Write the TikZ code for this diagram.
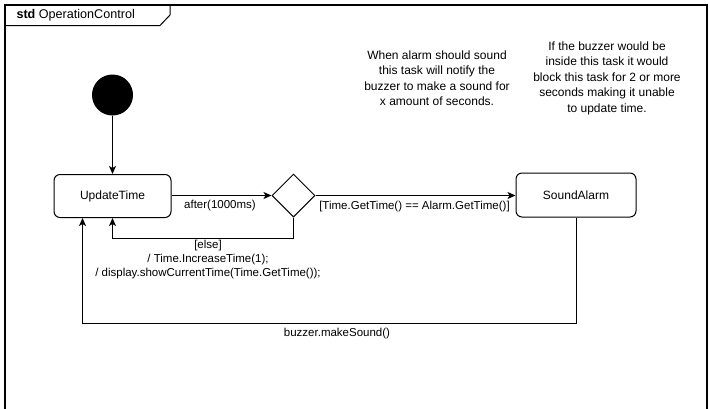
\documentclass[tikz,border=0pt]{standalone}
\usepackage{fontspec}
\setmainfont{Liberation Sans}
\usetikzlibrary{arrows.meta,shapes.geometric}
\begin{document}
\begin{tikzpicture}[x=1pt,y=-1pt,line width=1pt,
  >={Stealth[length=8pt,width=7pt,inset=2pt]},
  statebox/.style={draw,rounded corners=6pt,minimum width=117pt,minimum height=43pt,inner sep=0pt,font=\fontsize{12}{14}\selectfont},
  lbl/.style={font=\fontsize{11.5}{13.5}\selectfont,inner sep=0pt},
  note/.style={align=center,font=\fontsize{12}{15.5}\selectfont,inner sep=0pt}]
\useasboundingbox (0,0) rectangle (710,408);
% frame
\draw[line width=1.5pt] (5,410) -- (5,5) -- (707,5) -- (707,410);
\draw (5,25.5) -- (160,25.5) -- (170,15) -- (170,5);
\node[anchor=west,font=\fontsize{12.6}{14}\selectfont,inner sep=0pt] (title) at (16,15) {\textbf{std} OperationControl};
% nodes
\node[draw,fill=black,circle,minimum size=40pt,inner sep=0pt] (init) at (112.5,95) {};
\node[statebox] (upd) at (112.5,196) {UpdateTime};
\node[draw,diamond,minimum width=43pt,minimum height=43pt,inner sep=0pt] (dec) at (293.5,195.5) {};
\node[statebox,minimum width=120pt,minimum height=44pt] (snd) at (576,195) {SoundAlarm};
% notes
\node[note] (n1) at (437,78) {When alarm should sound\\this task will notify the\\buzzer to make a sound for\\x amount of seconds.};
\node[note] (n2) at (607,78) {If the buzzer would be\\inside this task it would\\block this task for 2 or more\\seconds making it unable\\to update time.};
% edges
\draw[->] (init) -- (upd);
\draw[->] (upd.east |- dec.west) -- (dec.west);
\node[lbl] (l1) at (220,206) {after(1000ms)};
\draw[->] (dec.east) -- (snd.west |- dec.east);
\node[lbl] (l2) at (414.5,207) {[Time.GetTime() == Alarm.GetTime()]};
\draw[->] (dec.south) -- ++(0,21) -| (upd.south);
\node[lbl,align=center,font=\fontsize{11.5}{13.7}\selectfont] (l3) at (208,259.5) {[else]\\/ Time.IncreaseTime(1);\\/ display.showCurrentTime(Time.GetTime());};
\coordinate (b) at ([xshift=29pt]upd.south west);
\draw[->] (snd.south) -- ++(0,106) -| (b);
\node[lbl] (l4) at (337,334) {buzzer.makeSound()};
\end{tikzpicture}
\end{document}
